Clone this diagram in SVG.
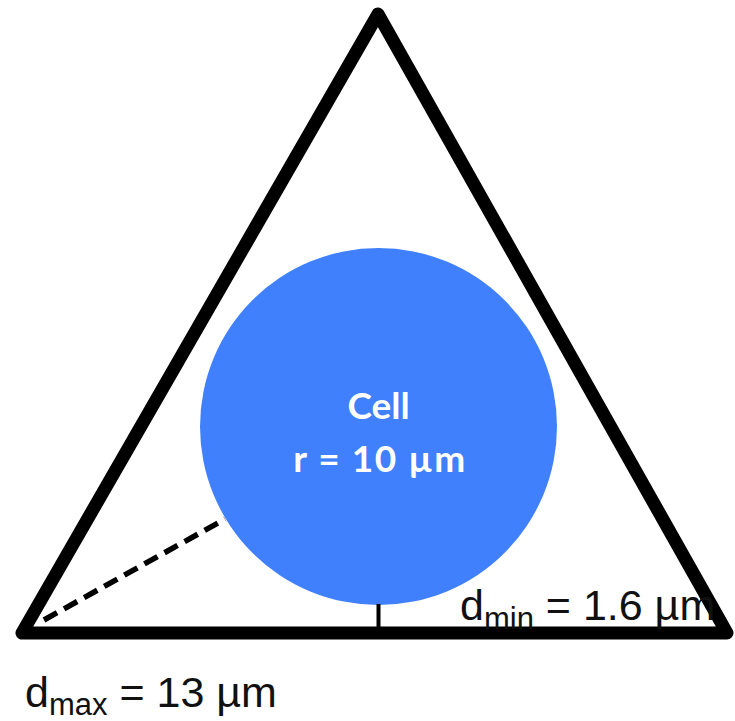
<svg xmlns="http://www.w3.org/2000/svg" width="735" height="721" viewBox="0 0 735 721">
<style>
.tri{fill:none;stroke:#000;stroke-width:13;stroke-linejoin:round;stroke-linecap:round}
.lbl{font-family:"Liberation Sans",Arial,sans-serif;font-size:43px;fill:#111}
.sub{font-size:31px}
.cell{font-family:Lato,"Open Sans","Liberation Sans",sans-serif;font-weight:bold;font-size:37px;fill:#fff;text-anchor:middle}
</style>
<rect width="735" height="721" fill="#fff"/>
<g id="triangle">
<polygon class="tri" points="378,14 22,633 727,633"/>
</g>
<g id="cell">
<circle cx="378.5" cy="426.5" r="178.5" fill="#4080fc"/>
<text class="cell" x="378.5" y="419">Cell</text>
<text class="cell" x="380" y="472" letter-spacing="1.5">r = 10 µm</text>
</g>
<g id="connectors">
<line x1="44" y1="620" x2="225" y2="519" stroke="#000" stroke-width="5.5" stroke-dasharray="15,8"/>
<line x1="378.5" y1="604" x2="378.5" y2="633" stroke="#000" stroke-width="4"/>
</g>
<g id="labels">
<text class="lbl" x="25" y="707">d<tspan class="sub" dy="8">max</tspan><tspan dy="-8"> = 13 µm</tspan></text>
<text class="lbl" x="460" y="620">d<tspan class="sub" dy="9">min</tspan><tspan dy="-9"> = 1.6 µm</tspan></text>
</g>
</svg>
